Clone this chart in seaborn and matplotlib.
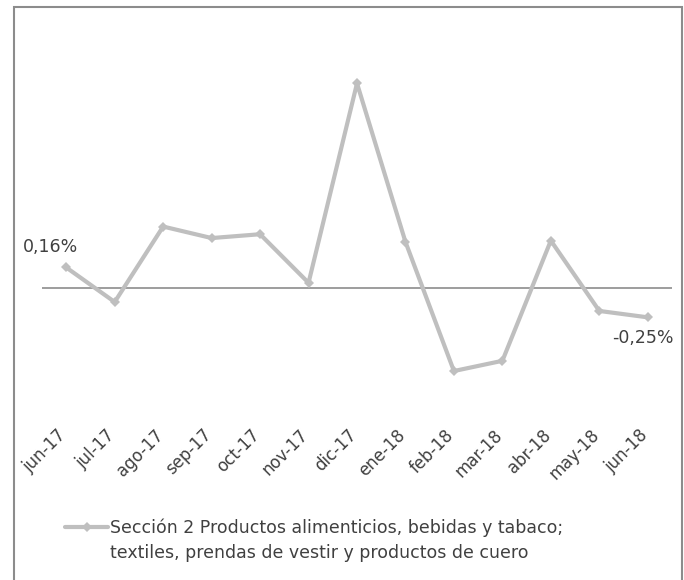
import matplotlib
matplotlib.use("Agg")
import matplotlib.pyplot as plt
import seaborn as sns
import pandas as pd
from matplotlib.patches import Rectangle
from matplotlib.transforms import ScaledTranslation

# datos (variación %)
meses = ["jun-17", "jul-17", "ago-17", "sep-17", "oct-17", "nov-17", "dic-17",
         "ene-18", "feb-18", "mar-18", "abr-18", "may-18", "jun-18"]
valores = [0.16, -0.11, 0.48, 0.39, 0.42, 0.04, 1.60,
           0.36, -0.65, -0.57, 0.37, -0.18, -0.23]
etiqueta_serie = ("Sección 2 Productos alimenticios, bebidas y tabaco;\n"
                  "textiles, prendas de vestir y productos de cuero")

df = pd.DataFrame({"mes": meses, "valor": valores, "x": range(len(meses))})

sns.set_style("white")
plt.rcParams["font.family"] = ["DejaVu Sans"]

fig = plt.figure(figsize=(6.84, 5.80), dpi=100)
ax = fig.add_axes([42 / 684, (580 - 403) / 580, 630 / 684, 358 / 580])

gris = "#bfbfbf"
texto = "#404040"
sns.lineplot(data=df, x="x", y="valor", ax=ax, color=gris, linewidth=3,
             marker="D", markersize=5, markeredgewidth=0, legend=False)
ax.axhline(0, color="#8c8c8c", linewidth=1.2, zorder=1)

ax.set_xlim(-0.5, len(meses) - 0.5)
ax.set_ylim(-0.9, 1.9)
ax.set_xticks(df["x"])
ax.set_xticklabels(meses, rotation=45, ha="right", va="center",
                   rotation_mode="anchor", fontsize=12, color=texto)
ax.tick_params(axis="x", length=0, pad=21)
desplaza = ScaledTranslation(-3 / 100, 0, fig.dpi_scale_trans)
for lab in ax.get_xticklabels():
    lab.set_transform(lab.get_transform() + desplaza)
ax.set_yticks([])
ax.set_xlabel("")
ax.set_ylabel("")
for s in ax.spines.values():
    s.set_visible(False)

ax.annotate("0,16%", (0, valores[0]), xytext=(-31, 15), textcoords="offset points",
            fontsize=12.5, color=texto, va="center")
ax.annotate("-0,25%", (12, valores[-1]), xytext=(-26, -15), textcoords="offset points",
            fontsize=12.5, color=texto, va="center")

# leyenda
fig.lines.append(plt.Line2D([65 / 684, 108 / 684], [1 - 527 / 580] * 2,
                            transform=fig.transFigure, color=gris, linewidth=3))
fig.lines.append(plt.Line2D([86.5 / 684], [1 - 527 / 580], transform=fig.transFigure,
                            color=gris, marker="D", markersize=5, markeredgewidth=0))
fig.text(110 / 684, 1 - 540 / 580, etiqueta_serie, fontsize=12.5, color=texto,
         va="center", ha="left", linespacing=1.5)

fig.patches.append(Rectangle((14 / 684, -0.02), 668 / 684, 1.02 - 7 / 580,
                             transform=fig.transFigure, fill=False,
                             edgecolor="#8c8c8c", linewidth=1.5))

fig.savefig("out.png", dpi=100)
